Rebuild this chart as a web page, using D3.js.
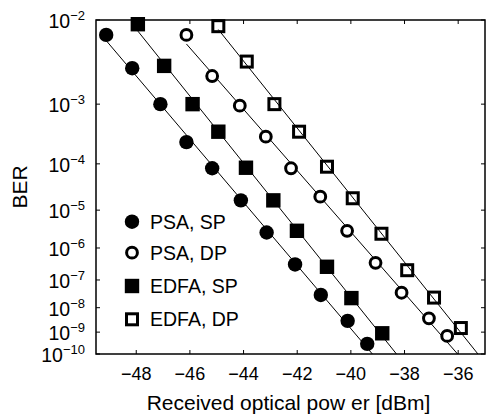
<!DOCTYPE html>
<html>
<head>
<meta charset="utf-8">
<script src="https://cdn.jsdelivr.net/npm/d3@7"></script>
<style>
  body { margin: 0; background: #fff; }
  text { font-family: Arial, "Liberation Sans", sans-serif; fill: #000; }
</style>
</head>
<body>
<div id="chart"></div>
<script>
// received power (dBm) and BER
var psaSpX  = [-49.12, -48.15, -47.10, -46.13, -45.17, -44.10, -43.14, -42.08, -41.12, -40.12, -39.39];
var psaSpY  = [7.1e-3, 3.0e-3, 1.0e-3, 2.5e-4, 8.2e-5, 1.7e-5, 2.7e-6, 3.2e-7, 3.0e-8, 3.0e-9, 3.0e-10];
var edfaSpX = [-47.94, -46.96, -45.90, -44.94, -43.91, -42.89, -42.01, -40.89, -39.98, -38.83];
var edfaSpY = [9.1e-3, 3.2e-3, 1.0e-3, 3.75e-4, 8.4e-5, 1.7e-5, 3.0e-6, 2.7e-7, 2.3e-8, 8.9e-10];
var psaDpX  = [-46.13, -45.17, -44.14, -43.17, -42.23, -41.14, -40.14, -39.08, -38.11, -37.09, -36.41];
var psaDpY  = [7.1e-3, 2.4e-3, 9.5e-4, 3.1e-4, 8.2e-5, 2.06e-5, 3.0e-6, 3.6e-7, 3.6e-8, 3.8e-9, 6.8e-10];
var edfaDpX = [-44.94, -43.88, -42.85, -41.93, -40.89, -39.93, -38.86, -37.90, -36.90, -35.90];
var edfaDpY = [8.7e-3, 3.6e-3, 1.0e-3, 3.75e-4, 8.8e-5, 1.9e-5, 2.5e-6, 2.1e-7, 2.4e-8, 1.5e-9];

var seriesNames = ["PSA, SP", "PSA, DP", "EDFA, SP", "EDFA, DP"];
var xTicks = [-48, -46, -44, -42, -40, -38, -36];
var yTickExp = [2, 3, 4, 5, 6, 7, 8, 9, 10];

var series = [
  {name: "PSA, SP",  xs: psaSpX,  ys: psaSpY,  shape: "circle", filled: true},
  {name: "PSA, DP",  xs: psaDpX,  ys: psaDpY,  shape: "circle", filled: false},
  {name: "EDFA, SP", xs: edfaSpX, ys: edfaSpY, shape: "square", filled: true},
  {name: "EDFA, DP", xs: edfaDpX, ys: edfaDpY, shape: "square", filled: false}
];

var W = 489, H = 417;
var m = {l: 96, t: 20, r: 4, b: 63};
var w = W - m.l - m.r, h = H - m.t - m.b;
var MINUS = "\u2212";

// BER axis is linear in log10(-log10(BER))
function tr(ber) { return Math.log10(-Math.log10(ber)); }

var x = d3.scaleLinear().domain([-49.5, -35]).range([0, w]);
var yt = d3.scaleLinear().domain([Math.log10(2), 1]).range([0, h]);
function y(ber) { return yt(tr(ber)); }

var svg = d3.select("#chart").append("svg")
  .attr("width", W).attr("height", H);

svg.append("defs").append("clipPath").attr("id", "clip")
  .append("rect").attr("width", w).attr("height", h);

var g = svg.append("g").attr("transform", "translate(" + m.l + "," + m.t + ")");

// fit lines (least squares of transformed BER vs power)
var lines = g.append("g").attr("clip-path", "url(#clip)");
series.forEach(function(s) {
  var n = s.xs.length;
  var ts = s.ys.map(tr);
  var mx = d3.mean(s.xs), mt = d3.mean(ts);
  var num = 0, den = 0;
  for (var i = 0; i < n; i++) {
    num += (s.xs[i] - mx) * (ts[i] - mt);
    den += (s.xs[i] - mx) * (s.xs[i] - mx);
  }
  var k = num / den, b = mt - k * mx;
  var x0 = s.xs[0], x1 = (1 - b) / k;
  lines.append("line")
    .attr("x1", x(x0)).attr("y1", yt(k * x0 + b))
    .attr("x2", x(x1)).attr("y2", yt(k * x1 + b))
    .attr("stroke", "#000").attr("stroke-width", 1);
});

function drawMarker(sel, s, cx, cy) {
  if (s.shape === "circle") {
    if (s.filled)
      sel.append("circle").attr("cx", cx).attr("cy", cy).attr("r", 7.2).attr("fill", "#000");
    else
      sel.append("circle").attr("cx", cx).attr("cy", cy).attr("r", 5.4)
        .attr("fill", "#fff").attr("stroke", "#000").attr("stroke-width", 3);
  } else {
    if (s.filled)
      sel.append("rect").attr("x", cx - 7.2).attr("y", cy - 7.2).attr("width", 14.4).attr("height", 14.4).attr("fill", "#000");
    else
      sel.append("rect").attr("x", cx - 5.5).attr("y", cy - 5.5).attr("width", 11).attr("height", 11)
        .attr("fill", "none").attr("stroke", "#000").attr("stroke-width", 3);
  }
}

var marks = g.append("g");
series.forEach(function(s) {
  s.xs.forEach(function(v, i) {
    drawMarker(marks, s, x(v), y(s.ys[i]));
  });
});

// frame
g.append("rect").attr("width", w).attr("height", h)
  .attr("fill", "none").attr("stroke", "#000").attr("stroke-width", 1.5);

// ticks inward on all sides
var tl = 4;
xTicks.forEach(function(v) {
  g.append("line").attr("x1", x(v)).attr("x2", x(v)).attr("y1", h).attr("y2", h - tl).attr("stroke", "#000");
  g.append("line").attr("x1", x(v)).attr("x2", x(v)).attr("y1", 0).attr("y2", tl).attr("stroke", "#000");
  g.append("text").attr("x", x(v)).attr("y", h + 26)
    .attr("text-anchor", "middle").style("font-size", "18px")
    .text(String(v).replace("-", MINUS));
});

yTickExp.forEach(function(e) {
  var yy = y(Math.pow(10, -e));
  g.append("line").attr("x1", 0).attr("x2", tl).attr("y1", yy).attr("y2", yy).attr("stroke", "#000");
  g.append("line").attr("x1", w).attr("x2", w - tl).attr("y1", yy).attr("y2", yy).attr("stroke", "#000");
  var t = g.append("text").attr("x", -11).attr("y", yy + 8)
    .attr("text-anchor", "end").style("font-size", "19.5px");
  t.append("tspan").text("10");
  t.append("tspan").attr("dy", -8).style("font-size", "13px").text(MINUS + e);
});

// axis titles
svg.append("text").attr("x", m.l + w / 2 - 2).attr("y", 410)
  .attr("text-anchor", "middle").style("font-size", "21px")
  .text("Received optical pow er [dBm]");
svg.append("text")
  .attr("transform", "translate(27," + (m.t + h / 2) + ") rotate(-90)")
  .attr("text-anchor", "middle").style("font-size", "21px").text("BER");

// legend
var leg = g.append("g");
series.forEach(function(s, i) {
  var ly = [201.7, 232.7, 266, 299.3][i];
  drawMarker(leg, s, 36, ly);
  leg.append("text").attr("x", 54).attr("y", ly + 7)
    .style("font-size", "19.5px").text(seriesNames[i]);
});
</script>
</body>
</html>
